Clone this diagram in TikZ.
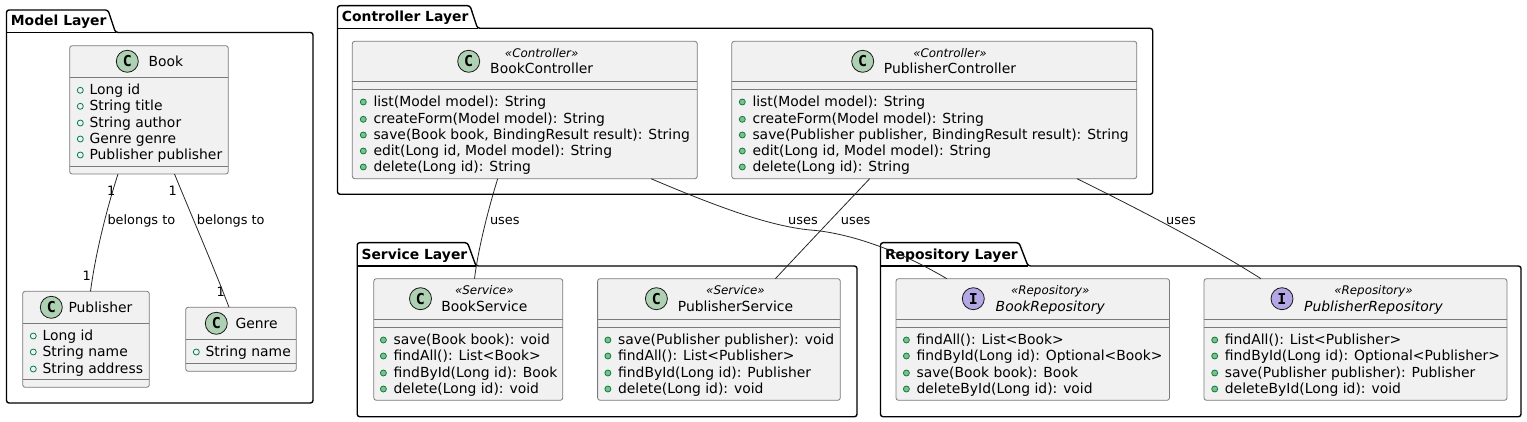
\documentclass[tikz,border=0pt]{standalone}
\usepackage{fontspec}
\setmainfont{DejaVu Sans}
\newfontfamily\glyphfam{DejaVu Sans Mono}
\usetikzlibrary{calc}
\definecolor{boxfill}{HTML}{F1F1F1}
\definecolor{boxline}{HTML}{7A7A7A}
\definecolor{classgreen}{HTML}{ADD1B2}
\definecolor{ifacepurple}{HTML}{B4A7E5}
\definecolor{visline}{HTML}{038048}
\definecolor{visfill}{HTML}{84BE84}
\tikzset{
  classbox/.style={draw=boxline,fill=boxfill,line width=0.8pt,rounded corners=2.5pt,inner sep=0pt,outer sep=0pt},
  divider/.style={draw=boxline,line width=0.8pt},
  pkg/.style={draw=black,line width=1.4pt,line join=round},
  assoc/.style={draw=black!85,line width=0.8pt},
  memberlabel/.style={anchor=base west,inner sep=0pt,yshift=-0.6pt,font=\fontsize{13.9}{16}\selectfont},
  namelabel/.style={anchor=base west,inner sep=0pt,yshift=-0.4pt,font=\fontsize{13.9}{16}\selectfont},
  centerlabel/.style={anchor=base,inner sep=0pt,yshift=-0.4pt,font=\fontsize{13.9}{16}\selectfont},
  ifacelabel/.style={anchor=base,inner sep=0pt,yshift=-0.4pt,font=\fontsize{13.9}{16}\selectfont\itshape},
  stereolabel/.style={anchor=base,inner sep=0pt,yshift=-0.4pt,font=\fontsize{11.9}{14}\selectfont\itshape},
  pkglabel/.style={anchor=base west,inner sep=0pt,yshift=-0.8pt,font=\fontsize{13.9}{16}\selectfont\bfseries},
  edgelabel/.style={anchor=base west,inner sep=0pt,yshift=-1pt,font=\fontsize{12.9}{15}\selectfont},
  spot/.style={circle,draw=black!90,line width=0.8pt,minimum size=22pt,inner sep=0pt,font=\glyphfam\bfseries\fontsize{15}{15}\selectfont},
}
\newcounter{itemno}
\newcommand{\umlclass}[7]{%
  \pgfmathsetmacro{\cw}{#4-#2}\pgfmathsetmacro{\ch}{#5-#3}%
  \pgfmathsetmacro{\cx}{(#2+#4)/2}\pgfmathsetmacro{\cy}{(#3+#5)/2}%
  \node[classbox,minimum width=\cw pt,minimum height=\ch pt] (#1) at (\cx,\cy) {};%
  \draw[divider] (#2,#6) -- (#4,#6);%
  \draw[divider] (#2,#7) -- (#4,#7);%
}
\newcommand{\attr}[3]{%
  \stepcounter{itemno}%
  \draw[visline,line width=0.8pt] ({#1-9},{#2-4}) circle (3pt);%
  \node[memberlabel] (item\theitemno) at (#1,#2) {#3};%
}
\newcommand{\meth}[3]{%
  \stepcounter{itemno}%
  \filldraw[draw=visline,fill=visfill,line width=0.8pt] ({#1-10},{#2-4}) circle (3pt);%
  \node[memberlabel] (item\theitemno) at (#1,#2) {#3};%
}
\newcommand{\umlpackage}[7]{% left, tab top, tab slant start, tab end, tab bottom, right, bottom
  \draw[pkg,rounded corners=2.5pt] (#1,#5) -- (#1,#2) -- (#3,#2) -- (#4,#5) -- (#6,#5) -- (#6,#7) -- (#1,#7) -- cycle;%
  \draw[pkg] (#1,#5) -- (#4,#5);%
}
\begin{document}
\begin{tikzpicture}[x=1pt,y=-1pt]
\path[use as bounding box] (0,0) rectangle (1527,422);

% packages
\umlpackage{6.5}{10}{108}{115.5}{32.5}{313}{403}
\node[pkglabel] (modelT) at (10.7,25) {Model Layer};
\umlpackage{337.5}{5.7}{470}{477.5}{28.3}{1152.7}{194.3}
\node[pkglabel] (ctrlT) at (341.7,21) {Controller Layer};
\umlpackage{357.2}{242.7}{467.5}{476}{266}{857}{416.7}
\node[pkglabel] (servT) at (361.3,259) {Service Layer};
\umlpackage{880.5}{242.7}{1019}{1028}{266}{1521}{416.7}
\node[pkglabel] (repoT) at (884.8,259) {Repository Layer};

% classes
\umlclass{Book}{69.7}{45.7}{228.3}{174}{77.5}{166}
\umlclass{Publisher}{22.7}{291.3}{149.3}{387.3}{323.3}{379.3}
\umlclass{Genre}{185.7}{307.3}{296.3}{371.3}{339.3}{363.3}
\umlclass{BookController}{352.3}{41.3}{697.3}{178.7}{81.3}{89.3}
\umlclass{PublisherController}{731.7}{41.3}{1136.7}{178.7}{81.3}{89.3}
\umlclass{BookService}{373.8}{278.7}{562.8}{400.3}{319.3}{327.3}
\umlclass{PublisherService}{597.6}{278.7}{840.3}{400.3}{319.3}{327.3}
\umlclass{BookRepository}{896}{278.7}{1169.5}{400.3}{319.3}{327.3}
\umlclass{PublisherRepository}{1204}{278.7}{1507}{400.3}{319.3}{327.3}

% connectors
\draw[assoc] ([xshift=48.3pt]Book.south west) .. controls (108,205) and (96,250) .. ([xshift=67.8pt]Publisher.north west);
\draw[assoc] ([xshift=104.8pt]Book.south west) .. controls (190,212) and (215,270) .. ([xshift=43.3pt]Genre.north west);
\draw[assoc] ([xshift=145.4pt]BookController.south west) .. controls (488,210) and (478,250) .. ([xshift=100.7pt]BookService.north west);
\draw[assoc] ([xshift=298.7pt]BookController.south west) .. controls (720,208) and (770,226) .. (810,230) .. controls (840,232) and (890,245) .. ([xshift=50.8pt]BookRepository.north west);
\draw[assoc] ([xshift=138pt]PublisherController.south west) .. controls (840,210) and (805,247) .. ([xshift=177.8pt]PublisherService.north west);
\draw[assoc] ([xshift=345.3pt]PublisherController.south west) .. controls (1120,200) and (1200,240) .. ([xshift=57pt]PublisherRepository.north west);

% connector labels
\node[edgelabel] (l1) at (107.3,224) {belongs to};
\node[edgelabel] (l2) at (196.7,224) {belongs to};
\node[edgelabel] (l3) at (489.8,224) {uses};
\node[edgelabel] (l4) at (788,224) {uses};
\node[edgelabel] (l5) at (840.7,224) {uses};
\node[edgelabel] (l6) at (1166,224) {uses};
\node[edgelabel] (c1) at (107,195) {1};
\node[edgelabel] (c2) at (168.5,195) {1};
\node[edgelabel] (c3) at (82.5,280) {1};
\node[edgelabel] (c4) at (216.5,296) {1};

% Book
\node[spot,fill=classgreen] (sBook) at (127.3,61.3) {C};
\node[namelabel] (nBook) at (148.3,66) {Book};
\attr{89.3}{94.3}{Long id}
\attr{89.3}{110.3}{String title}
\attr{89.3}{127}{String author}
\attr{89.3}{143}{Genre genre}
\attr{89.3}{159}{Publisher publisher}

% Publisher
\node[spot,fill=classgreen] (sPub) at (51.3,307.3) {C};
\node[namelabel] (nPub) at (68.3,312) {Publisher};
\attr{42.3}{340}{Long id}
\attr{42.3}{356}{String name}
\attr{42.3}{373}{String address}

% Genre
\node[spot,fill=classgreen] (sGen) at (216.3,323.3) {C};
\node[namelabel] (nGen) at (235.3,328) {Genre};
\attr{205.3}{356}{String name}

% BookController
\node[spot,fill=classgreen] (sBC) at (468.7,61.3) {C};
\node[stereolabel] (tBC) at (541.7,56.7) {«Controller»};
\node[centerlabel] (nBC) at (541.7,73) {BookController};
\meth{373.3}{106}{list(Model model): String}
\meth{373.3}{123.3}{createForm(Model model): String}
\meth{373.3}{139}{save(Book book, BindingResult result): String}
\meth{373.3}{155}{edit(Long id, Model model): String}
\meth{373.3}{171}{delete(Long id): String}

% PublisherController
\node[spot,fill=classgreen] (sPC) at (862.7,61.3) {C};
\node[stereolabel] (tPC) at (950,56.7) {«Controller»};
\node[centerlabel] (nPC) at (950,73) {PublisherController};
\meth{752.3}{106}{list(Model model): String}
\meth{752.3}{123.3}{createForm(Model model): String}
\meth{752.3}{139}{save(Publisher publisher, BindingResult result): String}
\meth{752.3}{155}{edit(Long id, Model model): String}
\meth{752.3}{171}{delete(Long id): String}

% BookService
\node[spot,fill=classgreen] (sBS) at (420.5,298.7) {C};
\node[stereolabel] (tBS) at (484.4,294) {«Service»};
\node[centerlabel] (nBS) at (484.4,310.7) {BookService};
\meth{393.4}{344}{save(Book book): void}
\meth{393.4}{360}{findAll(): List<Book>}
\meth{393.4}{377}{findById(Long id): Book}
\meth{393.4}{393}{delete(Long id): void}

% PublisherService
\node[spot,fill=classgreen] (sPS) at (656.4,298.7) {C};
\node[stereolabel] (tPS) at (735.5,294) {«Service»};
\node[centerlabel] (nPS) at (735.5,310.7) {PublisherService};
\meth{617.9}{344}{save(Publisher publisher): void}
\meth{617.9}{360}{findAll(): List<Publisher>}
\meth{617.9}{377}{findById(Long id): Publisher}
\meth{617.9}{393}{delete(Long id): void}

% BookRepository
\node[spot,fill=ifacepurple] (sBR) at (973.3,298.7) {I};
\node[stereolabel] (tBR) at (1050.3,294) {«Repository»};
\node[ifacelabel] (nBR) at (1050.3,310.7) {BookRepository};
\meth{916.4}{344}{findAll(): List<Book>}
\meth{916.4}{360}{findById(Long id): Optional<Book>}
\meth{916.4}{377}{save(Book book): Book}
\meth{916.4}{393}{deleteById(Long id): void}

% PublisherRepository
\node[spot,fill=ifacepurple] (sPR) at (1282,298.7) {I};
\node[stereolabel] (tPR) at (1373.5,294) {«Repository»};
\node[ifacelabel] (nPR) at (1373.5,310.7) {PublisherRepository};
\meth{1224.7}{344}{findAll(): List<Publisher>}
\meth{1224.7}{360}{findById(Long id): Optional<Publisher>}
\meth{1224.7}{377}{save(Publisher publisher): Publisher}
\meth{1224.7}{393}{deleteById(Long id): void}
\end{tikzpicture}
\end{document}
